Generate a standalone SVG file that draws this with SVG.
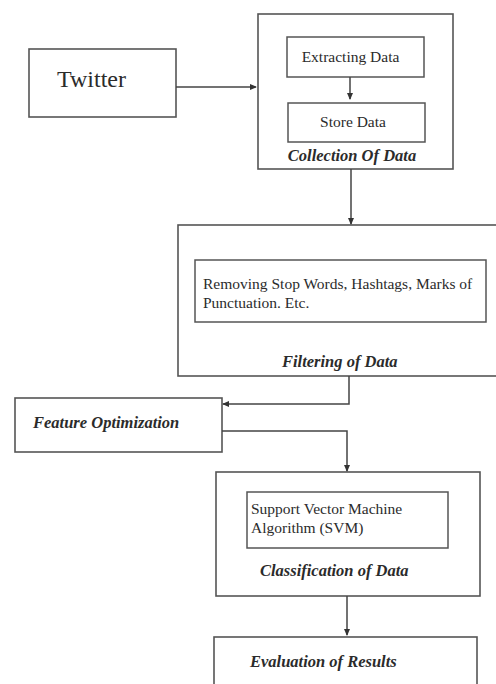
<svg xmlns="http://www.w3.org/2000/svg" width="496" height="684" viewBox="0 0 496 684">
<defs>
<marker id="ah" viewBox="0 0 8 8" refX="7" refY="4" markerWidth="7" markerHeight="7" markerUnits="userSpaceOnUse" orient="auto">
<path d="M0,0.5 L8,4 L0,7.5 z" fill="#333"/>
</marker>
<style>
.box{fill:#fff;stroke:#555;stroke-width:1.6}
.in{fill:#fff;stroke:#555;stroke-width:1.5}
.t{fill:#2b2b2b}
.n{font-size:15.5px}
.lab{font-size:16.5px;font-weight:bold;font-style:italic}
.c{fill:none;stroke:#444;stroke-width:1.5}
</style>
</defs>
<rect width="496" height="684" fill="#fff"/>
<g font-family="Liberation Serif, DejaVu Serif, serif">
<g id="twitter">
<rect class="box" x="29" y="49" width="147" height="68"/>
<text class="t" x="57" y="87" font-size="24">Twitter</text>
</g>
<g id="collection">
<rect class="box" x="258" y="14" width="195" height="155"/>
<text class="t lab" x="352" y="161" text-anchor="middle">Collection Of Data</text>
</g>
<g id="extracting">
<rect class="in" x="287" y="37" width="137" height="40"/>
<text class="t n" x="350.5" y="62" text-anchor="middle">Extracting Data</text>
</g>
<g id="store">
<rect class="in" x="288" y="103" width="137" height="39"/>
<text class="t n" x="353" y="127" text-anchor="middle">Store Data</text>
</g>
<g id="filtering">
<rect class="box" x="178" y="225" width="322" height="151"/>
<text class="t lab" x="282" y="367">Filtering of Data</text>
</g>
<g id="removing">
<rect class="in" x="195" y="260" width="291" height="62"/>
<text class="t n" x="203" y="289">Removing Stop Words, Hashtags, Marks of</text>
<text class="t n" x="203" y="308">Punctuation. Etc.</text>
</g>
<g id="feature">
<rect class="box" x="15" y="398" width="207" height="54"/>
<text class="t lab" x="33" y="428">Feature Optimization</text>
</g>
<g id="classification">
<rect class="box" x="216" y="472" width="264" height="124"/>
<text class="t lab" x="260" y="576">Classification of Data</text>
</g>
<g id="svm">
<rect class="in" x="247" y="492" width="201" height="56"/>
<text class="t n" x="251" y="514">Support Vector Machine</text>
<text class="t n" x="251" y="533">Algorithm (SVM)</text>
</g>
<g id="evaluation">
<rect class="box" x="214" y="637" width="263" height="60"/>
<text class="t lab" x="250" y="667">Evaluation of Results</text>
</g>
</g>
<g id="connectors">
<path class="c" d="M176,87 H256" marker-end="url(#ah)"/>
<path class="c" d="M350,77 V99" marker-end="url(#ah)"/>
<path class="c" d="M351,169 V224" marker-end="url(#ah)"/>
<path class="c" d="M349,376 V404 H223" marker-end="url(#ah)"/>
<path class="c" d="M222,431 H347 V471" marker-end="url(#ah)"/>
<path class="c" d="M347,596 V635" marker-end="url(#ah)"/>
</g>
</svg>
